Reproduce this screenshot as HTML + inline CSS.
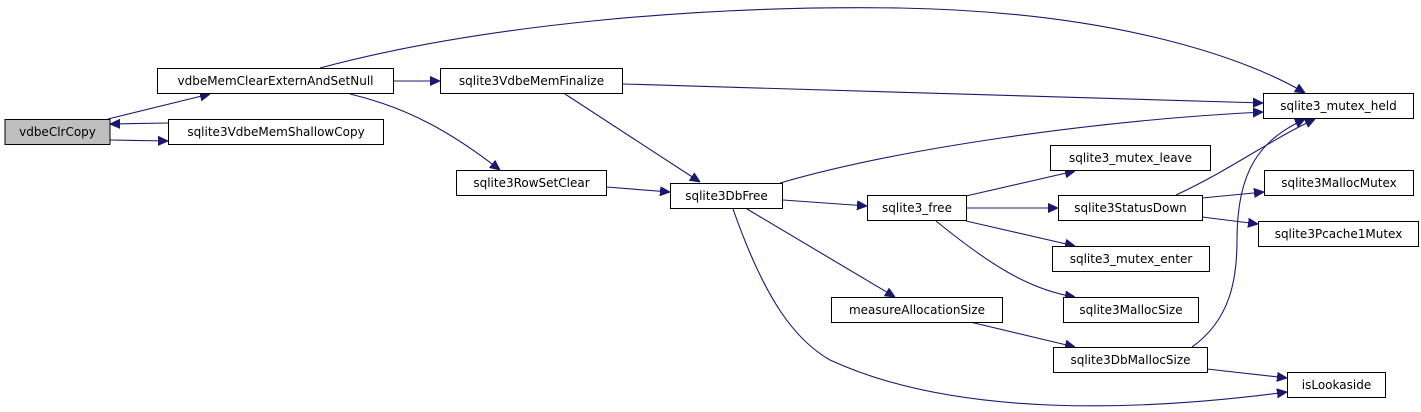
<!DOCTYPE html>
<html><head><meta charset="utf-8"><style>
html,body{margin:0;padding:0;background:#fff;}
svg{display:block;}
text{font-family:"DejaVu Sans","Liberation Sans",sans-serif;font-size:12px;fill:#000;}
.n{fill:#fff;stroke:#000;stroke-width:1;}
.e{fill:none;stroke:#191970;stroke-width:1.1;}
</style></head><body>
<svg width="1421" height="412" viewBox="0 0 1421 412" xmlns="http://www.w3.org/2000/svg">
<defs><marker id="a" viewBox="0 0 10 10" refX="10" refY="5" markerWidth="10" markerHeight="10" markerUnits="userSpaceOnUse" orient="auto"><path d="M0,0.5 L10,5 L0,9.5 z" fill="#191970" stroke="#191970"/></marker></defs>
<g class="e" marker-end="url(#a)">
<path d="M108,119 L210,94"/>
<path d="M110,140 L168,141"/>
<path d="M168,123 L110,124"/>
<path d="M320,68 C480,25 700,5 900,8 C1120,12 1250,60 1305,93"/>
<path d="M393,81 L440,81"/>
<path d="M350,94 C410,108 455,135 500,170"/>
<path d="M623,84 L1263,103"/>
<path d="M565,94 L700,182"/>
<path d="M606,187 L670,192"/>
<path d="M780,183 C900,148 1100,120 1263,112"/>
<path d="M783,200 L867,206"/>
<path d="M747,209 L895,297"/>
<path d="M733,209 C765,300 795,340 830,360 C960,420 1150,410 1287,392"/>
<path d="M966,196 L1075,171"/>
<path d="M966,208 L1058,208"/>
<path d="M966,221 L1075,246"/>
<path d="M936,221 C990,265 1030,290 1075,297"/>
<path d="M1176,195 C1230,170 1270,140 1315,119"/>
<path d="M1202,198 L1264,192"/>
<path d="M1202,217 L1258,224"/>
<path d="M970,322 L1075,347"/>
<path d="M1192,347 C1230,320 1237,280 1237,240 C1237,170 1260,140 1305,119"/>
<path d="M1207,369 L1287,378"/>
</g>
<rect x="5" y="119.5" width="105" height="25" fill="#bfbfbf" stroke="#000"/>
<text x="57.5" y="136" text-anchor="middle">vdbeClrCopy</text>
<rect class="n" x="157.5" y="68.5" width="236" height="25"/>
<text x="275.5" y="85" text-anchor="middle">vdbeMemClearExternAndSetNull</text>
<rect class="n" x="168.5" y="119.5" width="215" height="25"/>
<text x="276" y="136" text-anchor="middle">sqlite3VdbeMemShallowCopy</text>
<rect class="n" x="440.5" y="68.5" width="182" height="25"/>
<text x="531.5" y="85" text-anchor="middle">sqlite3VdbeMemFinalize</text>
<rect class="n" x="456.5" y="170.5" width="150" height="25"/>
<text x="531.5" y="187" text-anchor="middle">sqlite3RowSetClear</text>
<rect class="n" x="670.5" y="183.5" width="112" height="25"/>
<text x="726.5" y="200" text-anchor="middle">sqlite3DbFree</text>
<rect class="n" x="867.5" y="195.5" width="99" height="25"/>
<text x="917" y="212" text-anchor="middle">sqlite3_free</text>
<rect class="n" x="1263.5" y="93.5" width="150" height="25"/>
<text x="1338.5" y="110" text-anchor="middle">sqlite3_mutex_held</text>
<rect class="n" x="1050.5" y="145.5" width="160" height="25"/>
<text x="1130.5" y="162" text-anchor="middle">sqlite3_mutex_leave</text>
<rect class="n" x="1058.5" y="195.5" width="144" height="25"/>
<text x="1130.5" y="212" text-anchor="middle">sqlite3StatusDown</text>
<rect class="n" x="1264.5" y="170.5" width="149" height="25"/>
<text x="1339" y="187" text-anchor="middle">sqlite3MallocMutex</text>
<rect class="n" x="1258.5" y="221.5" width="160" height="25"/>
<text x="1338.5" y="238" text-anchor="middle">sqlite3Pcache1Mutex</text>
<rect class="n" x="1052.5" y="246.5" width="157" height="25"/>
<text x="1131" y="263" text-anchor="middle">sqlite3_mutex_enter</text>
<rect class="n" x="831.5" y="297.5" width="171" height="25"/>
<text x="917" y="314" text-anchor="middle">measureAllocationSize</text>
<rect class="n" x="1063.5" y="297.5" width="135" height="25"/>
<text x="1131" y="314" text-anchor="middle">sqlite3MallocSize</text>
<rect class="n" x="1053.5" y="347.5" width="154" height="25"/>
<text x="1130.5" y="364" text-anchor="middle">sqlite3DbMallocSize</text>
<rect class="n" x="1287.5" y="372.5" width="98" height="25"/>
<text x="1336.5" y="389" text-anchor="middle">isLookaside</text>
</svg>
</body></html>
